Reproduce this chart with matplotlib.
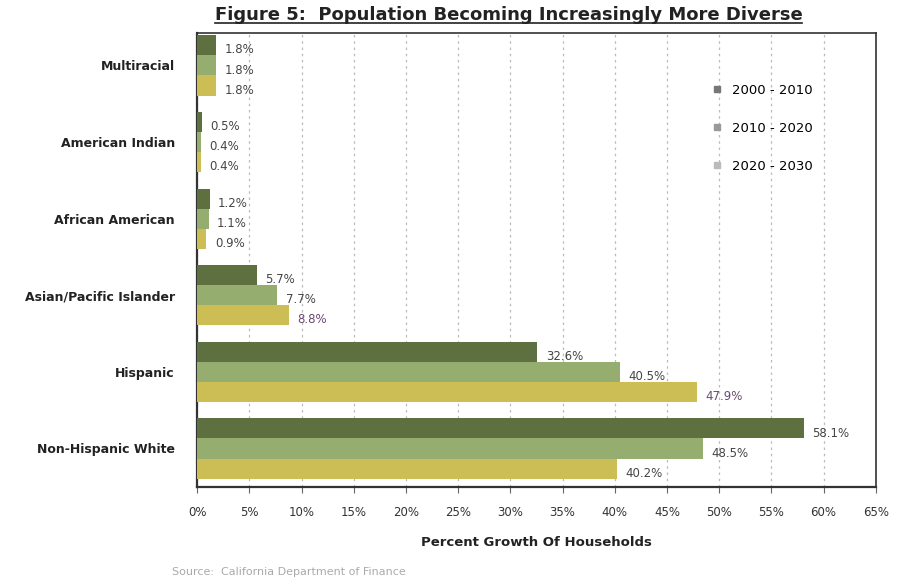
import numpy as np
import matplotlib
matplotlib.use("Agg")
import matplotlib.pyplot as plt
from matplotlib.lines import Line2D

# Household growth share by race/ethnicity (percent)
categories = ["Multiracial", "American Indian", "African American",
              "Asian/Pacific Islander", "Hispanic", "Non-Hispanic White"]
periods = ["2000 - 2010", "2010 - 2020", "2020 - 2030"]
growth_2000_2010 = [1.8, 0.5, 1.2, 5.7, 32.6, 58.1]
growth_2010_2020 = [1.8, 0.4, 1.1, 7.7, 40.5, 48.5]
growth_2020_2030 = [1.8, 0.4, 0.9, 8.8, 47.9, 40.2]
xticks = list(range(0, 70, 5))

series = [growth_2000_2010, growth_2010_2020, growth_2020_2030]
colors = ["#5f7040", "#96ad70", "#cdbd55"]
# 2020-2030 labels printed in purple for these groups
purple_groups = ["Asian/Pacific Islander", "Hispanic"]

fig = plt.figure(figsize=(9, 5.83), dpi=100)
ax = fig.add_axes([0.219, 0.165, 0.754, 0.778])

n = len(categories)
y = np.arange(n)
bar_h = 0.262
offsets = [-bar_h, 0, bar_h]

for si, (vals, off, col, name) in enumerate(zip(series, offsets, colors, periods)):
    ax.barh(y + off, vals, height=bar_h, color=col, label=name, zorder=3)
    for cat, yi, v in zip(categories, y, vals):
        lcol = "#6a4a72" if si == 2 and cat in purple_groups else "#454545"
        ax.text(v + 0.8, yi + off + 0.06, f"{v}%", va="center", ha="left",
                fontsize=8.5, color=lcol, zorder=4)

ax.set_ylim(n - 0.5, -0.42)
ax.set_xlim(0, 65)
ax.set_yticks(y)
ax.set_yticklabels(categories, fontsize=9, fontweight="bold", color="#222222")
ax.set_xticks(xticks)
ax.set_xticklabels([f"{t}%" for t in xticks], fontsize=8.5, color="#333333")
ax.tick_params(axis="y", length=0, pad=16)
ax.tick_params(axis="x", length=4, direction="out", pad=10, color="#666666")

ax.xaxis.grid(True, linestyle=(0, (2, 3)), color="#bbbbbb", linewidth=0.9, zorder=0)
ax.set_axisbelow(True)
for side, sp in ax.spines.items():
    sp.set_color("#333333")
    sp.set_linewidth(1.6 if side in ("left", "bottom") else 1.2)

ax.set_xlabel("Percent Growth Of Households", fontsize=9.5, fontweight="bold",
              color="#222222", labelpad=12)

# legend with small square markers, no frame
handles = [Line2D([0], [0], marker="s", linestyle="", markersize=4,
                  markerfacecolor=c, markeredgecolor=c) for c in ["#777777", "#999999", "#bbbbbb"]]
ax.legend(handles, periods, loc="upper right", bbox_to_anchor=(0.915, 0.9),
          frameon=False, fontsize=9.5, handletextpad=0.1, labelspacing=1.9,
          borderaxespad=0)

# underlined title
title = fig.text(0.565, 0.958, "Figure 5:  Population Becoming Increasingly More Diverse",
                 ha="center", va="bottom", fontsize=13, fontweight="bold", color="#222222")
fig.canvas.draw()
bb = title.get_window_extent().transformed(fig.transFigure.inverted())
fig.add_artist(Line2D([bb.x0, bb.x1], [bb.y0 + 0.003, bb.y0 + 0.003],
                      color="#222222", linewidth=1.2))

fig.text(0.191, 0.013, "Source:  California Department of Finance",
         fontsize=8, color="#aaaaaa")

fig.savefig("out.png", dpi=100, facecolor="white")
